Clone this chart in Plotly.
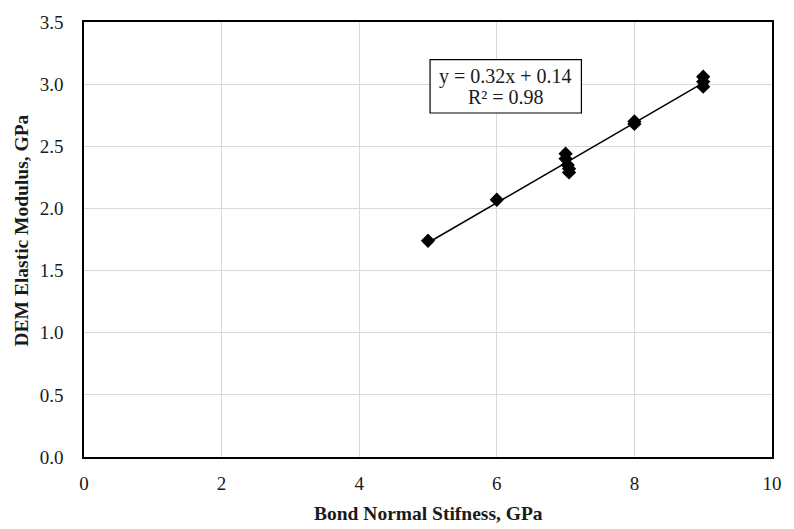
import numpy as np
import plotly.graph_objects as go

# Data
bond_normal_stiffness = [5, 6, 7, 7, 7.03, 7.05, 7.05, 8, 8, 9, 9, 9]
dem_elastic_modulus = [1.74, 2.07, 2.44, 2.40, 2.35, 2.32, 2.29, 2.70, 2.68, 3.06, 3.02, 2.98]
x_ticks = [0, 2, 4, 6, 8, 10]
y_ticks = [0.0, 0.5, 1.0, 1.5, 2.0, 2.5, 3.0, 3.5]
trend_eq = "y = 0.32x + 0.14"
trend_r2 = "R² = 0.98"
x_title = "Bond Normal Stifness, GPa"
y_title = "DEM Elastic Modulus, GPa"

x = np.array(bond_normal_stiffness)
y = np.array(dem_elastic_modulus)
slope, intercept = np.polyfit(x, y, 1)
xl = np.array([x.min(), x.max()])
yl = slope * xl + intercept

font_family = "Liberation Serif, Times New Roman, serif"
text_color = "#1a1a1a"

fig = go.Figure()
fig.add_trace(go.Scatter(x=xl, y=yl, mode="lines",
                         line=dict(color="black", width=1.5), showlegend=False,
                         hoverinfo="skip"))
fig.add_trace(go.Scatter(x=x, y=y, mode="markers",
                         marker=dict(symbol="diamond", size=11, color="black"),
                         showlegend=False))

# Trendline label box
fig.add_shape(type="rect", xref="x", yref="y", x0=5.03, x1=7.23, y0=2.768, y1=3.197,
              line=dict(color="black", width=1.2), fillcolor="white", layer="above")
fig.add_annotation(x=6.13, y=3.062, xref="x", yref="y", text=trend_eq,
                   xanchor="center", yanchor="middle",
                   showarrow=False, font=dict(family=font_family, size=20, color=text_color))
fig.add_annotation(x=6.13, y=2.893, xref="x", yref="y", text=trend_r2,
                   xanchor="center", yanchor="middle",
                   showarrow=False, font=dict(family=font_family, size=20, color=text_color))

# Axis titles
fig.add_annotation(x=0.5, y=-0.1305, xref="paper", yref="paper", text="<b>%s</b>" % x_title,
                   xanchor="center", yanchor="middle",
                   showarrow=False, font=dict(family=font_family, size=19.5, color=text_color))
fig.add_annotation(x=-0.0914, y=0.521, xref="paper", yref="paper", text="<b>%s</b>" % y_title,
                   xanchor="center", yanchor="middle",
                   textangle=-90, showarrow=False,
                   font=dict(family=font_family, size=19.5, color=text_color))

axis_common = dict(showgrid=True, gridcolor="#d9d9d9", gridwidth=1,
                   showline=True, linecolor="black", linewidth=1.5, mirror=True,
                   ticks="", zeroline=False,
                   tickfont=dict(family=font_family, size=19, color=text_color))

fig.update_xaxes(range=[0, 10], tickvals=x_ticks, ticktext=[str(t) for t in x_ticks],
                 ticklabelstandoff=8, **axis_common)
fig.update_yaxes(range=[0, 3.5], tickvals=y_ticks, ticktext=[f"{t:.1f}" for t in y_ticks],
                 ticklabelstandoff=15, **axis_common)

fig.update_layout(width=794, height=529,
                  margin=dict(l=83.5, r=15.5, t=17, b=71.5),
                  plot_bgcolor="white", paper_bgcolor="white")

fig.write_html("out.html")
